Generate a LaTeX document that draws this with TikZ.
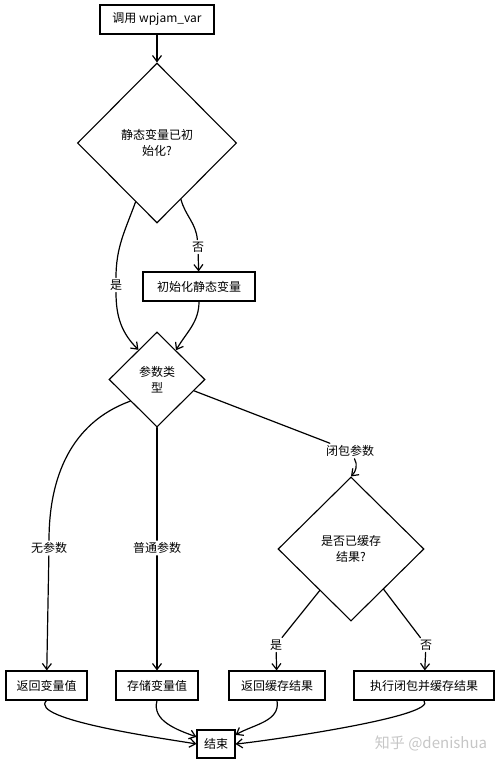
\documentclass[tikz,border=0pt]{standalone}
\usepackage{fontspec}
\setmainfont{Noto Sans CJK SC}
\usetikzlibrary{shapes.geometric,arrows.meta}

\tikzset{
  box/.style={draw, line width=1.1pt, minimum height=29pt, inner sep=2pt,
    font=\fontsize{12}{14}\selectfont},
  decision/.style={draw, diamond, line width=1.1pt, inner sep=0pt, align=center,
    font=\fontsize{12}{16}\selectfont},
  lbl/.style={inner sep=2pt, font=\fontsize{12}{14}\selectfont},
  flow/.style={line width=1.2pt, line cap=round},
  arr/.style={flow, -{Straight Barb[length=6pt,width=9pt]}},
}

\begin{document}
\begin{tikzpicture}[x=1pt,y=-1pt]
      \useasboundingbox (0,0) rectangle (500,764);
        %%top
        \node[box, minimum width=114pt] (call) at (157,19.5) {调用 wpjam\_var};
        \node[decision, minimum width=159pt, minimum height=160pt] (inited) at (157,143) {静态变量已初\\始化?};
        \node[box, minimum width=112pt] (initvar) at (199,286.5) {初始化静态变量};
        \node[decision, minimum width=96pt, minimum height=95pt] (argtype) at (157,379.5) {参数类\\型};
        \node[decision, minimum width=146pt, minimum height=144pt] (cached) at (351,549) {是否已缓存\\结果?};
        %%bottom row
        \node[box, minimum width=81pt] (retvar) at (46.5,685.5) {返回变量值};
        \node[box, minimum width=82pt] (storevar) at (157,685.5) {存储变量值};
        \node[box, minimum width=96pt] (retcache) at (277,685.5) {返回缓存结果};
        \node[box, minimum width=140pt] (runclosure) at (424,685.5) {执行闭包并缓存结果};
        \node[box, minimum width=38pt, minimum height=28pt] (finish) at (216,744) {结束};
        %%labels
        \node[lbl] (yes1) at (116,285) {是};
        \node[lbl] (no1) at (198,247) {否};
        \node[lbl] (noarg) at (49,548) {无参数};
        \node[lbl] (plainarg) at (157,548) {普通参数};
        \node[lbl] (closure) at (350,451) {闭包参数};
        \node[lbl] (yes2) at (276,645) {是};
        \node[lbl] (no2) at (426,645) {否};
        \node[text=gray!45, font=\fontsize{15}{17}\selectfont] (mark) at (431,743) {知乎 @denishua};

        %%init check
        \draw[arr] (call) -- (inited);
        \draw[flow] (inited.-110) to[out=-110,in=90] (yes1);
        \draw[arr] (yes1) to[out=-90,in=135] (argtype.122);
        \draw[flow] (inited.-67) to[out=-75,in=95] (no1);
        \draw[arr] (no1) -- (initvar);
        \draw[arr] (initvar.south) to[out=-90,in=60] (argtype.57);
        %%arg type
        \draw[flow] (argtype.-141) to[out=200,in=90] (noarg);
        \draw[arr] (noarg) -- (retvar);
        \draw[flow] (argtype.south) -- (plainarg);
        \draw[arr] (plainarg) -- (storevar);
        \draw[flow] (argtype.-17) -- (closure);
        \draw[arr] (closure.-60) to[out=-60,in=45] (cached.north);
        %%cache check
        \draw[flow] (cached.-127) -- (yes2);
        \draw[arr] (yes2) -- (retcache);
        \draw[flow] (cached.-51) -- (no2);
        \draw[arr] (no2) -- (runclosure);
        %%to end
        \draw[arr] (retvar.south) to[out=-135,in=170,looseness=0.45] (finish.west);
        \draw[arr] (storevar.south) to[out=-105,in=160] (finish.160);
        \draw[arr] (retcache.south) to[out=-80,in=30] (finish.25);
        \draw[arr] (runclosure.south) to[out=-45,in=5,looseness=0.3] (finish.east);
    \end{tikzpicture}
\end{document}
